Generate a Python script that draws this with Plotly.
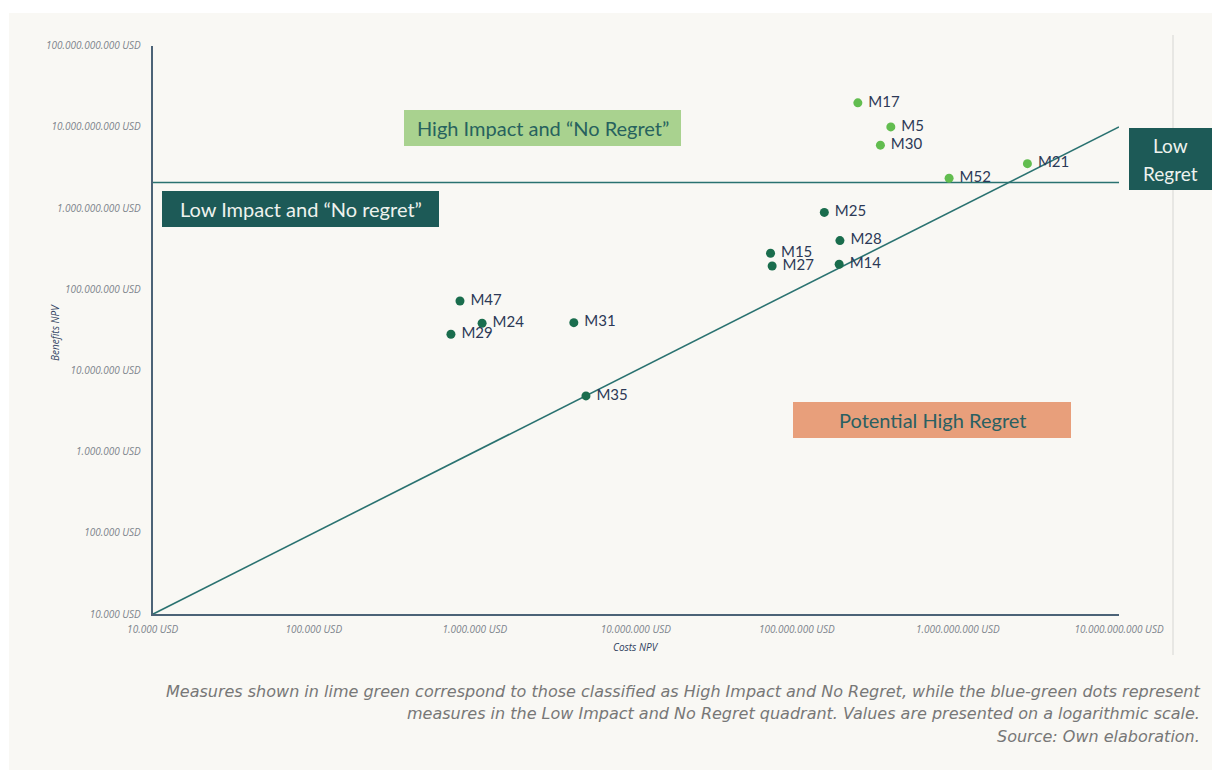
import math
import plotly.graph_objects as go

W, H = 1212, 778

# Measures: name, costs NPV (USD), benefits NPV (USD)
high_names = ["M17", "M5", "M30", "M52", "M21"]
high_costs = [2.39e8, 3.83e8, 3.30e8, 8.81e8, 2.70e9]
high_benefits = [1.98e10, 1.00e10, 5.96e9, 2.33e9, 3.53e9]

low_names = ["M25", "M28", "M14", "M15", "M27", "M47", "M24", "M29", "M31", "M35"]
low_costs = [1.48e8, 1.85e8, 1.83e8, 6.86e7, 7.02e7, 8.09e5, 1.11e6, 7.11e5, 4.12e6, 4.90e6]
low_benefits = [8.85e8, 3.98e8, 2.04e8, 2.78e8, 1.94e8, 7.19e7, 3.82e7, 2.80e7, 3.89e7, 4.87e6]

# Impact threshold for benefits and break-even diagonal
impact_threshold = 2.07e9
axis_min, axis_max_x, axis_max_y = 1e4, 1e10, 1e11

x_tickvals = [1e4, 1e5, 1e6, 1e7, 1e8, 1e9, 1e10]
x_ticktext = ["10.000 USD", "100.000 USD", "1.000.000 USD", "10.000.000 USD",
              "100.000.000 USD", "1.000.000.000 USD", "10.000.000.000 USD"]
y_tickvals = [1e4, 1e5, 1e6, 1e7, 1e8, 1e9, 1e10, 1e11]
y_ticktext = ["10.000 USD", "100.000 USD", "1.000.000 USD", "10.000.000 USD",
              "100.000.000 USD", "1.000.000.000 USD", "10.000.000.000 USD",
              "100.000.000.000 USD"]

caption_lines = [
    "Measures shown in lime green correspond to those classified as High Impact and No Regret, while the blue-green dots represent",
    "measures in the Low Impact and No Regret quadrant. Values are presented on a logarithmic scale.",
    "Source: Own elaboration.",
]

DARK_TEAL = "#1d5a57"
LINE_TEAL = "#2a7270"
AXIS_COL = "#4c6377"
DOT_DARK = "#1a6d4d"
DOT_LIME = "#62bd4f"
LABEL_COL = "#2c3956"
FONT = "Lato"


def px(x):
    return x / W


def py(y):
    return 1 - y / H


fig = go.Figure()

# Break-even diagonal (benefits = costs)
fig.add_trace(go.Scatter(
    x=[axis_min, axis_max_x], y=[axis_min, axis_max_x], mode="lines",
    line=dict(color=LINE_TEAL, width=1.6), hoverinfo="skip", showlegend=False))

# Impact threshold
fig.add_trace(go.Scatter(
    x=[axis_min, axis_max_x], y=[impact_threshold, impact_threshold], mode="lines",
    line=dict(color=LINE_TEAL, width=1.6), hoverinfo="skip", showlegend=False))

for names, costs, bens, col in [(low_names, low_costs, low_benefits, DOT_DARK),
                                (high_names, high_costs, high_benefits, DOT_LIME)]:
    fig.add_trace(go.Scatter(
        x=costs, y=bens, mode="markers+text", text=["\u00a0" + n for n in names],
        textposition="middle right",
        textfont=dict(family=FONT, size=15, color=LABEL_COL),
        marker=dict(color=col, size=9), showlegend=False))

shapes = [
    # light panel behind everything
    dict(type="rect", xref="paper", yref="paper", x0=px(9), x1=px(1212), y0=py(770), y1=py(13),
         fillcolor="#f9f8f4", line=dict(width=0), layer="below"),
    # thin separator on the right
    dict(type="line", xref="paper", yref="paper", x0=px(1173), x1=px(1173), y0=py(655), y1=py(35),
         line=dict(color="#d6d6d3", width=1), layer="below"),
    # quadrant boxes
    dict(type="rect", xref="paper", yref="paper", x0=px(404), x1=px(681), y0=py(146), y1=py(110),
         fillcolor="#a9d28f", line=dict(width=0)),
    dict(type="rect", xref="paper", yref="paper", x0=px(162), x1=px(439), y0=py(227), y1=py(191),
         fillcolor=DARK_TEAL, line=dict(width=0)),
    dict(type="rect", xref="paper", yref="paper", x0=px(793), x1=px(1071), y0=py(438), y1=py(402),
         fillcolor="#e89f7b", line=dict(width=0)),
    dict(type="rect", xref="paper", yref="paper", x0=px(1129), x1=px(1212), y0=py(190), y1=py(128),
         fillcolor=DARK_TEAL, line=dict(width=0)),
]

annotations = [
    dict(text="High Impact and “No Regret”", x=px(542.5), y=py(128), font=dict(size=20, color="#27625e")),
    dict(text="Low Impact and “No regret”", x=px(300.5), y=py(209), font=dict(size=20, color="#eef2ee")),
    dict(text="Potential High Regret", x=px(932), y=py(420), font=dict(size=20, color="#2a6062")),
    dict(text="Low", x=px(1170.5), y=py(146), font=dict(size=19, color="#eef2ee")),
    dict(text="Regret", x=px(1170.5), y=py(173), font=dict(size=19, color="#eef2ee")),
    dict(text="Benefits NPV", x=px(55), y=py(333), textangle=-90,
         font=dict(size=10, color="#2f4160", style="italic", family="Open Sans")),
    dict(text="Costs NPV", x=px(636), y=py(647),
         font=dict(size=10, color="#2f4160", style="italic", family="Open Sans")),
]
for a in annotations:
    a.update(xref="paper", yref="paper", showarrow=False, xanchor="center", yanchor="middle")
    a["font"].setdefault("family", FONT)

for i, line in enumerate(caption_lines):
    annotations.append(dict(
        text=line, xref="paper", yref="paper", x=px(1202), y=py(691 + 22.5 * i),
        xanchor="right", yanchor="middle", showarrow=False,
        font=dict(family="DejaVu Sans", size=16, color="#777777", style="italic", weight=300)))

tickfont = dict(family="Open Sans", size=10, color="#7d848c", style="italic")

fig.update_layout(
    width=W, height=H, margin=dict(l=0, r=0, t=0, b=0),
    paper_bgcolor="white", plot_bgcolor="rgba(0,0,0,0)",
    shapes=shapes, annotations=annotations,
    xaxis=dict(type="log", range=[math.log10(axis_min), math.log10(axis_max_x)],
               domain=[px(152.7), px(1119)], tickvals=x_tickvals, ticktext=x_ticktext,
               automargin=False,
               showgrid=False, zeroline=False, showline=True, linecolor=AXIS_COL, linewidth=1.8,
               ticks="outside", ticklen=5, tickcolor="rgba(0,0,0,0)", tickfont=tickfont),
    yaxis=dict(type="log", range=[math.log10(axis_min), math.log10(axis_max_y)],
               domain=[1 - 614.2 / H, 1 - 45.7 / H], tickvals=y_tickvals, ticktext=y_ticktext,
               automargin=False,
               showgrid=False, zeroline=False, showline=True, linecolor=AXIS_COL, linewidth=1.8,
               ticks="outside", ticklen=8, tickcolor="rgba(0,0,0,0)", tickfont=tickfont),
)

fig.write_html("out.html")
